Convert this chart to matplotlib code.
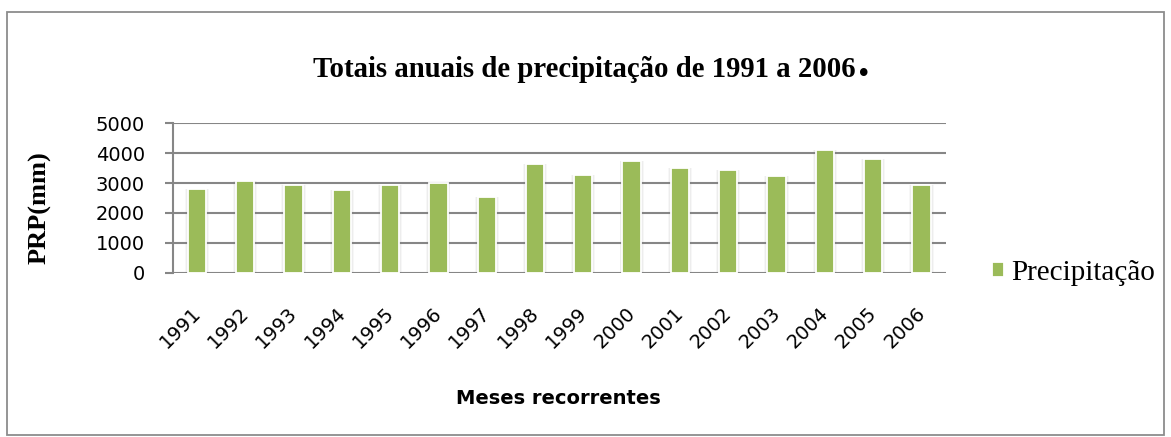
import matplotlib.pyplot as plt
from matplotlib.patches import Rectangle
from matplotlib.transforms import offset_copy

years = ['1991', '1992', '1993', '1994', '1995', '1996', '1997', '1998',
         '1999', '2000', '2001', '2002', '2003', '2004', '2005', '2006']
precip = [2790, 3060, 2935, 2780, 2935, 3010, 2525, 3650,
          3270, 3730, 3495, 3450, 3245, 4105, 3805, 2945]
yticks = [0, 1000, 2000, 3000, 4000, 5000]

fig = plt.figure(figsize=(11.71, 4.37), dpi=100)
ax = fig.add_axes([0.1475, 0.376, 0.66, 0.342])

# outer chart border
fig.patches.append(Rectangle((0.006, 0.005), 0.988, 0.968, transform=fig.transFigure,
                             fill=False, edgecolor='#8c8c8c', linewidth=1.3))

x = list(range(len(years)))
# soft glow behind the bars
for w, a in [(0.50, 0.06), (0.46, 0.08), (0.42, 0.10)]:
    ax.bar(x, [v + 40 for v in precip], width=w, bottom=-40, color='#7f7f7f',
           alpha=a, linewidth=0, zorder=2)
ax.bar(x, precip, width=0.38, color='#9bbb59', edgecolor='white',
       linewidth=1.3, zorder=3, label='Precipitação')

ax.set_xlim(-0.5, len(years) - 0.5)
ax.set_ylim(0, 5000)
ax.set_yticks(yticks)
ax.yaxis.grid(True, color='#868686', linewidth=1.5, zorder=0)
ax.set_axisbelow(True)
for s in ['top', 'right', 'bottom']:
    ax.spines[s].set_visible(False)
ax.spines['left'].set_color('#868686')
ax.spines['left'].set_linewidth(1.5)
ax.tick_params(axis='y', length=6, color='#868686', width=1.5, labelsize=14, pad=14)
ax.tick_params(axis='x', length=0, labelsize=14, pad=22)
ax.set_xticks(x)
ax.set_xticklabels(years, rotation=45, ha='right', rotation_mode='anchor')
for lab in ax.get_xticklabels():
    lab.set_transform(offset_copy(lab.get_transform(), fig=fig, x=-6, y=0, units='dots'))

t = fig.text(0.2673, 0.824, 'Totais anuais de precipitação de 1991 a 2006',
             ha='left', va='baseline', fontsize=20.7, fontweight='bold',
             family='Liberation Serif')
fig.canvas.draw()
bb = t.get_window_extent()
fig.text(bb.x1 / fig.bbox.width + 0.002, 0.827, '.', ha='left', va='baseline',
         fontsize=33, fontweight='bold', family='Liberation Serif')

fig.text(0.034, 0.526, 'PRP(mm)', ha='center', va='center', rotation=90,
         fontsize=19, fontweight='bold', family='Liberation Serif')
fig.text(0.4765, 0.089, 'Meses recorrentes', ha='center', va='center',
         fontsize=14, fontweight='bold')

ax.legend(loc='center left', bbox_to_anchor=(1.045, 0.0), borderaxespad=0,
          frameon=False, handlelength=0.4, handleheight=0.4, handletextpad=0.25,
          prop={'family': 'Liberation Serif', 'size': 21})

fig.savefig('out.png', dpi=100)
